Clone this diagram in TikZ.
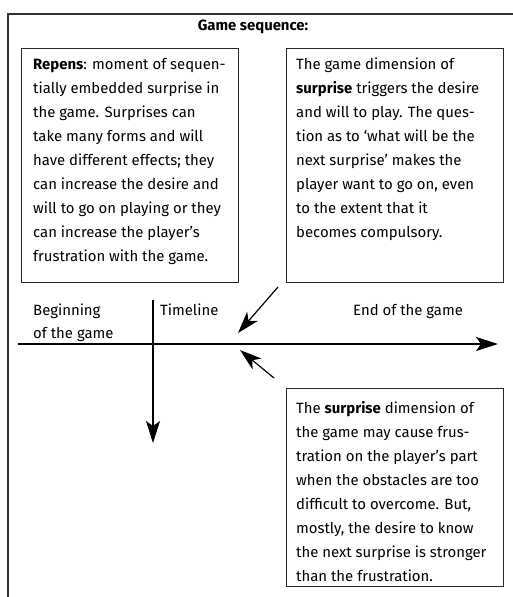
\documentclass[tikz,border=0pt]{standalone}
\usepackage{fontspec}
\setmainfont{Fira Sans}
\usetikzlibrary{arrows.meta,calc}
\begin{document}
\begin{tikzpicture}[x=1pt,y=-1pt,
  frame/.style={draw=black!80, line width=1.4pt},
  box/.style={draw=black!85, line width=1.2pt},
  txt/.style={inner sep=0pt, anchor=north west, align=left,
    font=\fontsize{14.9}{24}\selectfont},
  lbl/.style={inner sep=0pt, anchor=base west, font=\fontsize{14.9}{24}\selectfont},
  axis/.style={line width=1.2pt, -{Stealth[length=22pt,width=14pt,inset=5pt]}},
  ptr/.style={line width=1.2pt, -{Stealth[length=22pt,width=14pt,inset=6pt]}}]
\useasboundingbox (0,0) rectangle (512,597);
\fill[white] (0,0) rectangle (512,597);
% outer frame (only top and left visible)
\draw[frame] (520,14) -- (8,14) -- (8,605);
\node[inner sep=0pt, font=\bfseries\fontsize{14.9}{16}\selectfont] (title) at (253,27) {Game sequence:};
% boxes
\node[box, inner sep=0pt, minimum width=217pt, minimum height=234pt, anchor=north west] (L) at (21,48) {};
\node[box, inner sep=0pt, minimum width=217pt, minimum height=234pt, anchor=north west] (R) at (286,48) {};
\node[box, inner sep=0pt, minimum width=217pt, minimum height=198pt, anchor=north west] (B) at (286,388) {};
% texts
\node[txt] (Lt) at (33,52.5) {\strut\textbf{Repens}: moment of sequen-\\
tially embedded surprise in\\
the game. Surprises can\\
take many forms and will\\
have different effects; they\\
can increase the desire and\\
will to go on playing or they\\
can increase the player’s\\
frustration with the game.};
\node[txt] (Rt) at (296,52.5) {\strut The game dimension of\\
\textbf{surprise} triggers the desire\\
and will to play. The ques-\\
tion as to ‘what will be the\\
next surprise’ makes the\\
player want to go on, even\\
to the extent that it\\
becomes compulsory.};
\node[txt] (Bt) at (296,396.5) {\strut The \textbf{surprise} dimension of\\
the game may cause frus-\\
tration on the player’s part\\
when the obstacles are too\\
difficult to overcome. But,\\
mostly, the desire to know\\
the next surprise is stronger\\
than the frustration.};
% axis labels
\node[lbl] (beg1) at (33,315) {Beginning};
\node[lbl] (beg2) at (33,338) {of the game};
\node[lbl] (tl) at (160,315) {Timeline};
\node[lbl] (end) at (353,315) {End of the game};
% axes
\coordinate (hs) at (18,344);
\coordinate (he) at (498,344);
\coordinate (vs) at (153,300);
\coordinate (ve) at (153,443);
\draw[axis] (hs) -- (he);
\draw[axis] (vs) -- (ve);
% pointers
\coordinate (p1s) at (278,287);
\coordinate (p1e) at (238,333);
\coordinate (p2s) at (274,378);
\coordinate (p2e) at (240,350);
\draw[ptr] (p1s) -- (p1e);
\draw[ptr] (p2s) -- (p2e);
\end{tikzpicture}
\end{document}
